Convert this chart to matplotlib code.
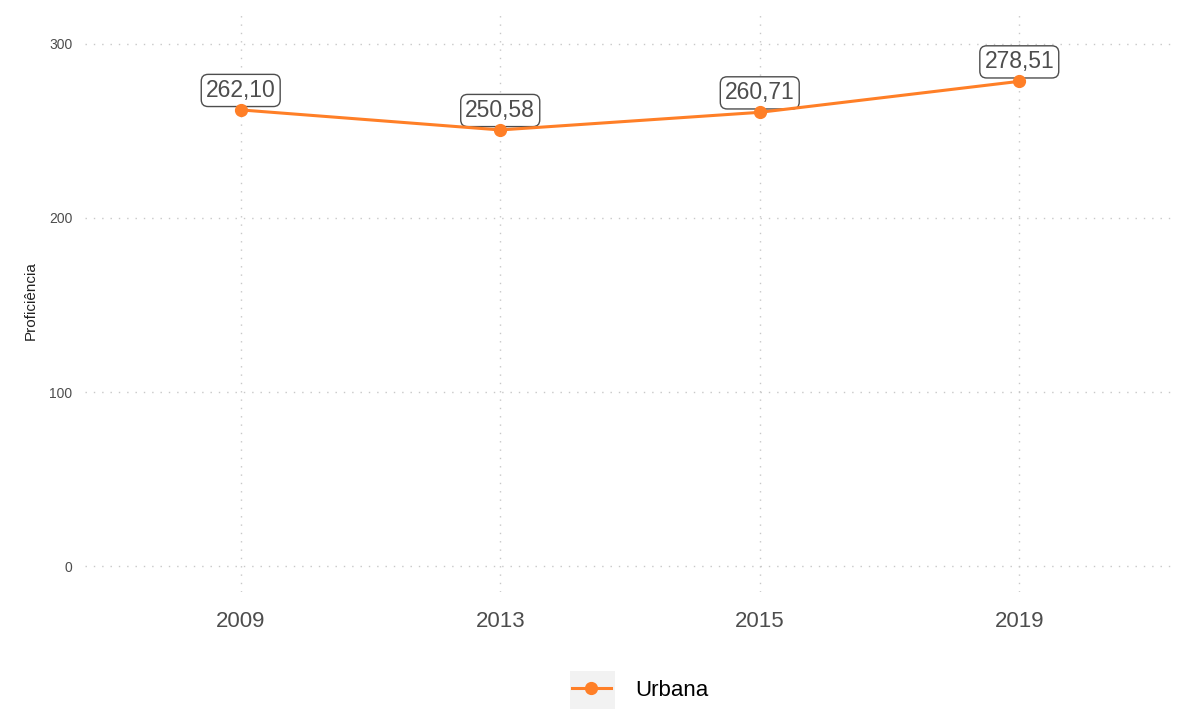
import matplotlib
matplotlib.use('Agg')
import matplotlib.pyplot as plt
from matplotlib.patches import Rectangle

anos = ['2009', '2013', '2015', '2019']
urbana = [262.10, 250.58, 260.71, 278.51]
rotulos = ['262,10', '250,58', '260,71', '278,51']
yticks = [0, 100, 200, 300]

laranja = '#FF7F27'
cinza = '#4d4d4d'

plt.rcParams['font.family'] = ['Liberation Sans', 'DejaVu Sans']

fig = plt.figure(figsize=(11.9, 7.09), dpi=100)
ax = fig.add_axes([85/1190, 1 - 592/709, 1090/1190, 582/709])

x = range(len(anos))
ax.plot(x, urbana, color=laranja, lw=2.2, marker='o', ms=8.5, label='Urbana', zorder=5)

for i, (v, t) in enumerate(zip(urbana, rotulos)):
    ax.annotate(t, (i, v), xytext=(0, 14), textcoords='offset points',
                ha='center', va='center', fontsize=16.5, color=cinza,
                bbox=dict(boxstyle='round,pad=0.2,rounding_size=0.3', fc='white', ec=cinza, lw=1),
                zorder=4)

ax.set_xlim(-0.6, 3.6)
ax.set_ylim(-14.9, 319.5)
ax.set_xticks(list(x))
ax.set_xticklabels(anos, fontsize=16, color=cinza)
ax.set_yticks(yticks)
ax.set_yticklabels([str(t) for t in yticks], fontsize=10, color=cinza)
ax.tick_params(length=0, pad=9)
ax.tick_params(axis='x', pad=14)
ax.set_ylabel('Proficiência', fontsize=11, color='#222222', labelpad=8)
ax.grid(True, ls=(0, (1, 5)), color='#c8c8c8', lw=1)
for s in ax.spines.values():
    s.set_visible(False)

leg = fig.legend(loc='center', bbox_to_anchor=(640/1190, 1 - 690/709), frameon=False,
                 fontsize=16, handlelength=1.75, handletextpad=1.1)
fig.patches.append(Rectangle((570/1190, 0), 45/1190, 38/709, transform=fig.transFigure,
                             facecolor='#F2F2F2', edgecolor='none', zorder=0))

fig.savefig('out.png', dpi=100)
